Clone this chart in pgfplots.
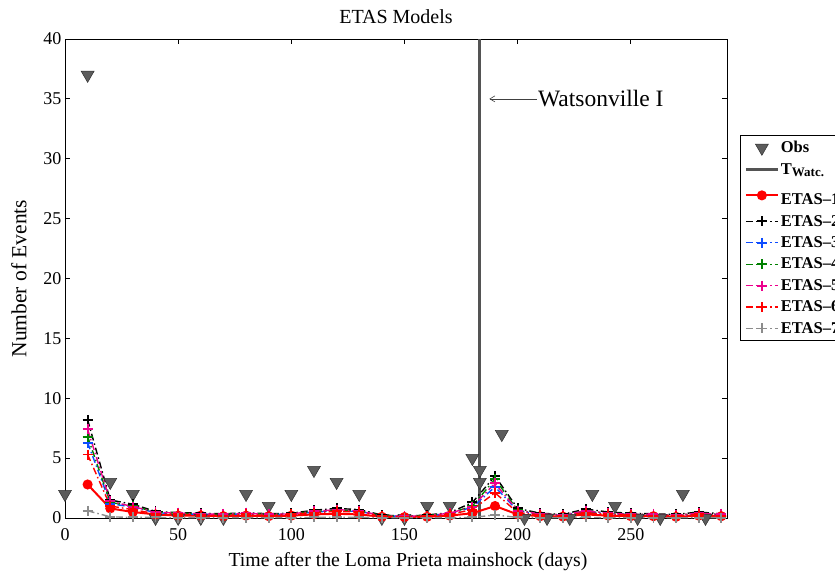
\documentclass[border=0pt]{standalone}
\usepackage{pgfplots}
\pgfplotsset{compat=1.18}
\usepackage{pgfplotstable}
\usepackage{fontspec}
\setmainfont{Liberation Serif}
\usetikzlibrary{arrows.meta}

\definecolor{obsgray}{rgb}{0.36,0.36,0.36}
\definecolor{watcgray}{rgb}{0.33,0.33,0.33}
\definecolor{etasblue}{rgb}{0.05,0.3,1}
\definecolor{etasgreen}{rgb}{0,0.5,0}
\definecolor{etasgray}{rgb}{0.55,0.55,0.55}

% observed event counts
\pgfplotstableread{
day n
0 2
10 37
20 3
30 2
40 0
50 0
60 0
70 0
80 2
90 1
100 2
110 4
120 3
130 2
140 0
150 0
160 1
170 1
180 5
183.3 4
183.3 3
193 7
203 0
213 0
223 0
233 2
243 1
253 0
263 0
273 2
283 0
}\obsdata

% expected counts of the seven ETAS models
\pgfplotstableread{
day e1 e2 e3 e4 e5 e6 e7
10 2.8 8.2 6.3 6.8 7.4 5.3 0.6
20 0.8 1.5 1.2 1.3 1.4 1.0 0.1
30 0.5 1.15 0.9 1.0 0.95 0.7 0.05
40 0.3 0.55 0.45 0.5 0.5 0.35 0.05
50 0.2 0.45 0.35 0.4 0.4 0.3 0.03
60 0.2 0.4 0.3 0.35 0.35 0.25 0.03
70 0.15 0.35 0.3 0.3 0.3 0.2 0.03
80 0.2 0.45 0.35 0.4 0.4 0.3 0.03
90 0.15 0.35 0.3 0.3 0.3 0.2 0.03
100 0.2 0.4 0.3 0.35 0.35 0.3 0.03
110 0.3 0.65 0.5 0.55 0.55 0.45 0.05
120 0.35 0.8 0.6 0.65 0.7 0.55 0.05
130 0.3 0.7 0.55 0.6 0.6 0.5 0.05
140 0.1 0.25 0.2 0.2 0.2 0.15 0.02
150 0.08 0.15 0.12 0.13 0.13 0.1 0.02
160 0.1 0.25 0.2 0.2 0.2 0.15 0.02
170 0.2 0.45 0.35 0.4 0.4 0.3 0.03
180 0.4 1.3 0.9 1.0 0.95 0.7 0.05
190 1.0 3.5 2.6 3.25 2.9 2.1 0.25
200 0.3 0.8 0.6 0.65 0.6 0.45 0.05
210 0.15 0.4 0.3 0.35 0.35 0.25 0.03
220 0.12 0.3 0.25 0.25 0.25 0.2 0.03
230 0.3 0.75 0.55 0.6 0.6 0.45 0.05
240 0.2 0.5 0.35 0.4 0.4 0.3 0.03
250 0.15 0.4 0.3 0.3 0.3 0.25 0.03
260 0.15 0.35 0.25 0.3 0.3 0.2 0.03
270 0.1 0.3 0.2 0.25 0.25 0.2 0.02
280 0.2 0.5 0.35 0.4 0.4 0.3 0.03
290 0.15 0.35 0.25 0.3 0.3 0.2 0.03
}\etasdata

\begin{document}
\begin{tikzpicture}
\begin{axis}[
  scale only axis,
  width=662pt, height=479pt,
  xmin=0, xmax=292.5, ymin=0, ymax=40,
  xtick={0,50,...,250}, ytick={0,5,...,40},
  tick align=inside,
  major tick length=5pt,
  axis line style={line width=0.8pt},
  every tick/.style={black, line width=0.8pt},
  /pgf/number format/assume math mode=true,
  xticklabel={\pgfmathprintnumber[assume math mode=true]{\tick}},
  yticklabel={\pgfmathprintnumber[assume math mode=true]{\tick}},
  tick label style={font=\fontsize{18}{20}\selectfont},
  xticklabel style={yshift=-7pt},
  xlabel style={font=\fontsize{19.8}{22}\selectfont, yshift=-5pt, xshift=12pt},
  ylabel style={font=\fontsize{21.5}{24}\selectfont, yshift=10pt},
  title style={font=\fontsize{20}{22}\selectfont, yshift=6pt},
  title={ETAS Models},
  xlabel={Time after the Loma Prieta mainshock (days)},
  ylabel={Number of Events},
  legend cell align=left,
  legend style={
    at={(1.0196,0.7996)}, anchor=north west,
    draw=black, fill=white, line width=0.8pt,
    font=\bfseries\fontsize{16.5}{18}\selectfont,
    row sep=5pt, inner sep=4pt,
    nodes={inner xsep=1.5pt},
  },
  legend image code/.code={%
    \draw[mark repeat=2,mark phase=2,#1]
      plot coordinates {(0pt,0pt) (16pt,0pt) (32pt,0pt)};},
  etas/.style={line width=1.4pt, mark=+, mark size=5pt,
    mark options={solid, line width=1.9pt},
    dash pattern=on 7pt off 3pt on 1.5pt off 3pt},
]
\addlegendimage{only marks, mark=triangle*, mark size=7.5pt,
  mark options={rotate=180, fill=obsgray, draw=black!80, line width=0.5pt}}
\addlegendentry{Obs}
\addlegendimage{watcgray, line width=3pt}
\addlegendentry{T\textsubscript{\fontsize{13}{14}\selectfont Watc.}}

% Watsonville I event time
\addplot[watcgray, line width=3pt, forget plot] coordinates {(183.3,0) (183.3,40)};

% observed counts
\addplot[only marks, mark=triangle*, mark size=7.5pt,
  mark options={rotate=180, fill=obsgray, draw=black!80, line width=0.5pt},
  forget plot] table[x=day, y=n] {\obsdata};

\addplot[red, line width=2pt, mark=*, mark size=4pt, mark options={solid}]
  table[x=day, y=e1] {\etasdata};
\addlegendentry{\rule{0pt}{20pt}ETAS--1}
\addplot[black, etas] table[x=day, y=e2] {\etasdata};
\addlegendentry{ETAS--2}
\addplot[etasblue, etas] table[x=day, y=e3] {\etasdata};
\addlegendentry{ETAS--3}
\addplot[etasgreen, etas] table[x=day, y=e4] {\etasdata};
\addlegendentry{ETAS--4}
\addplot[magenta, etas] table[x=day, y=e5] {\etasdata};
\addlegendentry{ETAS--5}
\addplot[red, etas] table[x=day, y=e6] {\etasdata};
\addlegendentry{ETAS--6}
\addplot[etasgray, etas] table[x=day, y=e7] {\etasdata};
\addlegendentry{ETAS--7}

% label for the event line
\draw[-{Straight Barb[length=5pt,width=6pt]}, line width=0.6pt, black!75]
  (axis cs:208.5,35) -- (axis cs:187.5,35);
\node[anchor=west, inner sep=1pt, font=\fontsize{23.5}{26}\selectfont]
  at (axis cs:208.5,35) {Watsonville I};
\end{axis}
\pgfresetboundingbox
\useasboundingbox (-65pt,-53pt) rectangle (770pt,518pt);
\end{tikzpicture}
\end{document}
